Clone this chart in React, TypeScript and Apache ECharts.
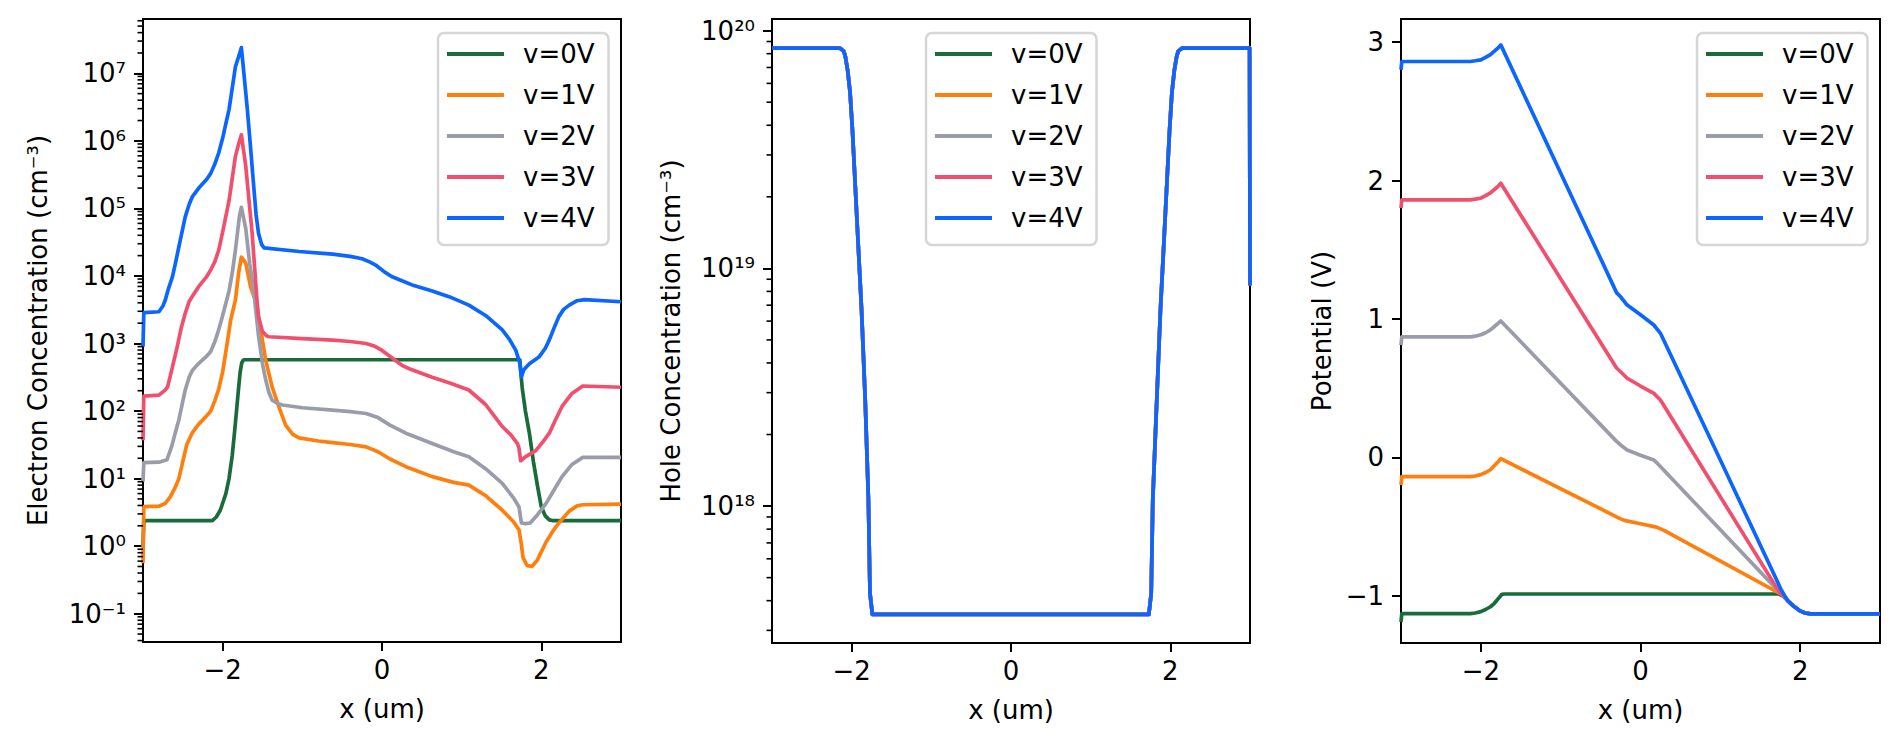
import React, { useEffect, useRef } from "react";
import * as echarts from "echarts";

// ---------- data ----------
const voltageLabels = ["v=0V", "v=1V", "v=2V", "v=3V", "v=4V"];
const seriesColors = ["#1a6b3a", "#ff7f0e", "#9a9cab", "#f0506e", "#0a66ff"];

const xTicks = [-2, 0, 2];
const electronTickExponents = [-1, 0, 1, 2, 3, 4, 5, 6, 7];
const holeTickExponents = [18, 19, 20];
const potentialTicks = [-1, 0, 1, 2, 3];

// Electron concentration (cm^-3) vs x (um)
const electronV0 = [
  [-3, 1.0], [-2.99, 2.38], [-2.13, 2.38], [-2.08, 2.7], [-2.03, 3.4], [-1.96, 6], [-1.92, 10],
  [-1.88, 22], [-1.85, 50], [-1.82, 120], [-1.8, 220], [-1.78, 380], [-1.76, 520], [-1.74, 570],
  [-1.72, 575], [1.73, 575], [1.745, 350], [1.76, 220], [1.8, 100], [1.85, 47], [1.9, 18],
  [1.95, 8], [2.0, 3.8], [2.05, 2.8], [2.1, 2.45], [2.15, 2.38], [3, 2.38],
];
const electronV1 = [
  [-3, 0.56], [-2.99, 3.84], [-2.8, 3.9], [-2.72, 4.3], [-2.66, 5.3], [-2.6, 7.2], [-2.55, 10],
  [-2.5, 18], [-2.45, 32], [-2.38, 48], [-2.3, 64], [-2.2, 85], [-2.15, 100], [-2.1, 140],
  [-2.05, 210], [-2.0, 380], [-1.95, 900], [-1.9, 2200], [-1.84, 4400], [-1.8, 11000],
  [-1.765, 19000], [-1.71, 15500], [-1.65, 6900], [-1.59, 4400], [-1.55, 2500], [-1.5, 1100],
  [-1.46, 570], [-1.38, 230], [-1.3, 120], [-1.21, 62], [-1.12, 45], [-1.04, 40], [-0.8, 36],
  [-0.62, 34], [-0.4, 32], [-0.2, 29.5], [-0.05, 25], [0.1, 19.5], [0.3, 15], [0.63, 10.7],
  [0.9, 8.8], [1.09, 8.0], [1.3, 5.6], [1.51, 3.4], [1.65, 2.3], [1.72, 1.74], [1.75, 1.05],
  [1.77, 0.68], [1.82, 0.52], [1.88, 0.5], [1.95, 0.62], [2.06, 1.15], [2.15, 1.7], [2.22, 2.2],
  [2.35, 3.3], [2.45, 3.95], [2.52, 4.1], [3, 4.2],
];
const electronV2 = [
  [-3, 9], [-2.99, 17.2], [-2.8, 17.5], [-2.7, 19], [-2.64, 30], [-2.58, 55], [-2.55, 74],
  [-2.5, 140], [-2.47, 205], [-2.42, 320], [-2.38, 400], [-2.3, 510], [-2.2, 650], [-2.15, 760],
  [-2.1, 1050], [-2.05, 1600], [-2.0, 2600], [-1.92, 6000], [-1.88, 11000], [-1.84, 24000],
  [-1.79, 76000], [-1.765, 104000], [-1.71, 50000], [-1.66, 15000], [-1.61, 6000], [-1.55, 1300],
  [-1.5, 500], [-1.46, 290], [-1.42, 190], [-1.38, 145], [-1.3, 128], [-1.25, 123], [-1.0, 112],
  [-0.62, 103], [-0.4, 98], [-0.2, 92], [-0.05, 80], [0.1, 62], [0.3, 47], [0.63, 33], [0.9, 25],
  [1.09, 21], [1.3, 14], [1.51, 8.5], [1.65, 5.2], [1.72, 3.8], [1.75, 2.2], [1.8, 2.15],
  [1.86, 2.2], [1.95, 2.9], [2.06, 4.3], [2.15, 6.5], [2.26, 10.7], [2.38, 16], [2.52, 20.6],
  [3, 20.6],
];
const electronV3 = [
  [-3, 37], [-2.99, 166], [-2.8, 172], [-2.72, 205], [-2.69, 230], [-2.63, 450], [-2.57, 900],
  [-2.52, 1700], [-2.47, 2800], [-2.42, 4200], [-2.38, 5000], [-2.3, 7000], [-2.2, 9800],
  [-2.15, 12300], [-2.1, 16000], [-2.05, 24000], [-2.0, 45000], [-1.92, 130000],
  [-1.84, 590000], [-1.8, 900000], [-1.765, 1230000], [-1.71, 420000], [-1.63, 43000],
  [-1.57, 4500], [-1.55, 2500], [-1.5, 1500], [-1.45, 1300], [-1.42, 1260], [-1.0, 1180],
  [-0.62, 1120], [-0.4, 1070], [-0.2, 1000], [-0.1, 920], [0, 790], [0.12, 620], [0.25, 475],
  [0.35, 420], [0.63, 317], [0.85, 260], [1.09, 205], [1.3, 125], [1.51, 59], [1.62, 44],
  [1.7, 33], [1.72, 28], [1.74, 18.4], [1.8, 21], [1.93, 26], [2.02, 35], [2.1, 47],
  [2.18, 75], [2.26, 117], [2.38, 180], [2.52, 235], [3, 225],
];
const electronV4 = [
  [-3, 900], [-2.99, 2870], [-2.8, 2950], [-2.75, 3600], [-2.72, 4400], [-2.68, 6500],
  [-2.63, 9800], [-2.59, 16000], [-2.55, 27000], [-2.51, 45000], [-2.47, 75000],
  [-2.42, 115000], [-2.38, 150000], [-2.3, 200000], [-2.2, 270000], [-2.15, 330000],
  [-2.1, 450000], [-2.05, 660000], [-2.0, 1100000], [-1.96, 1800000], [-1.92, 2900000],
  [-1.88, 6000000], [-1.84, 12500000], [-1.8, 17600000], [-1.765, 24000000], [-1.74, 12000000],
  [-1.69, 2900000], [-1.65, 800000], [-1.61, 210000], [-1.58, 80000], [-1.55, 43000],
  [-1.51, 29000], [-1.48, 26000], [-1.04, 23000], [-0.62, 21000], [-0.4, 19500], [-0.25, 18000],
  [-0.15, 16000], [-0.08, 14500], [0.03, 11500], [0.12, 9800], [0.25, 8500], [0.4, 7200],
  [0.63, 6000], [0.85, 4900], [1.09, 3700], [1.3, 2600], [1.51, 1590], [1.6, 1150],
  [1.68, 790], [1.73, 510], [1.75, 320], [1.78, 410], [1.85, 500], [1.97, 630], [2.05, 850],
  [2.1, 1130], [2.16, 1700], [2.22, 2500], [2.28, 3200], [2.35, 3700], [2.45, 4300],
  [2.54, 4470], [3, 4150],
];

// Hole concentration (cm^-3): identical for all biases at this scale
const holeConcentration = [
  [-3, 8.45e19], [-2.15, 8.45e19], [-2.1, 8.2e19], [-2.08, 7.8e19], [-2.05, 6.8e19],
  [-2.02, 5.5e19], [-1.99, 3.8e19], [-1.96, 2.4e19], [-1.92, 1.3e19], [-1.876, 6.7e18],
  [-1.83, 2.8e18], [-1.79, 1.07e18], [-1.77, 4.3e17], [-1.74, 3.5e17], [1.73, 3.5e17],
  [1.76, 4.3e17], [1.78, 1.07e18], [1.83, 2.8e18], [1.876, 6.7e18], [1.92, 1.3e19],
  [1.96, 2.4e19], [1.99, 3.8e19], [2.02, 5.5e19], [2.05, 6.8e19], [2.08, 7.8e19],
  [2.1, 8.2e19], [2.15, 8.45e19], [2.995, 8.45e19], [3, 8.5e18],
];

// Potential (V)
const potentialV0 = [
  [-3, -1.19], [-2.99, -1.13], [-2.13, -1.13], [-2.07, -1.125], [-2.0, -1.115], [-1.94, -1.1],
  [-1.88, -1.08], [-1.83, -1.055], [-1.78, -1.02], [-1.735, -0.99], [-1.7, -0.988],
  [1.73, -0.988], [1.78, -1.0], [1.85, -1.04], [1.92, -1.077], [2.0, -1.11], [2.06, -1.125],
  [2.13, -1.132], [3, -1.132],
];
const potentialV1 = [
  [-3, -0.2], [-2.99, -0.14], [-2.13, -0.14], [-2.07, -0.135], [-2.0, -0.125], [-1.94, -0.11],
  [-1.88, -0.09], [-1.83, -0.06], [-1.78, -0.03], [-1.75, -0.01], [-0.3, -0.43],
  [-0.25, -0.445], [-0.19, -0.458], [0.0, -0.48], [0.2, -0.505], [0.3, -0.53], [1.75, -0.985],
  [1.8, -1.005], [1.85, -1.04], [1.92, -1.077], [2.0, -1.11], [2.06, -1.125], [2.13, -1.132],
  [3, -1.132],
];
const potentialV2 = [
  [-3, 0.81], [-2.99, 0.87], [-2.13, 0.87], [-2.07, 0.875], [-2.0, 0.885], [-1.94, 0.9],
  [-1.88, 0.92], [-1.83, 0.945], [-1.78, 0.97], [-1.75, 0.985], [-0.3, 0.115], [-0.25, 0.089],
  [-0.167, 0.053], [0.0, 0.015], [0.167, -0.02], [0.21, -0.043], [1.75, -0.98], [1.8, -1.005],
  [1.85, -1.04], [1.92, -1.077], [2.0, -1.11], [2.06, -1.125], [2.13, -1.132], [3, -1.132],
];
const potentialV3 = [
  [-3, 1.8], [-2.99, 1.86], [-2.13, 1.86], [-2.07, 1.865], [-2.0, 1.872], [-1.94, 1.89],
  [-1.88, 1.91], [-1.83, 1.935], [-1.78, 1.96], [-1.75, 1.98], [-0.3, 0.645], [-0.25, 0.618],
  [-0.167, 0.571], [0.0, 0.515], [0.167, 0.462], [0.25, 0.414], [1.75, -0.985], [1.8, -1.005],
  [1.85, -1.04], [1.92, -1.077], [2.0, -1.11], [2.06, -1.125], [2.13, -1.132], [3, -1.132],
];
const potentialV4 = [
  [-3, 2.8], [-2.99, 2.86], [-2.13, 2.86], [-2.07, 2.865], [-2.0, 2.872], [-1.94, 2.89],
  [-1.88, 2.91], [-1.83, 2.935], [-1.78, 2.96], [-1.75, 2.98], [-0.3, 1.19], [-0.25, 1.16],
  [-0.167, 1.1], [0.0, 1.03], [0.167, 0.956], [0.25, 0.896], [1.0, -0.02], [1.7, -0.88],
  [1.76, -0.955], [1.8, -0.995], [1.85, -1.04], [1.92, -1.077], [2.0, -1.11], [2.06, -1.125],
  [2.13, -1.132], [3, -1.132],
];

const electronSets = [electronV0, electronV1, electronV2, electronV3, electronV4];
const potentialSets = [potentialV0, potentialV1, potentialV2, potentialV3, potentialV4];

// ---------- helpers ----------
const FONT = "DejaVu Sans";
const SUP: Record<string, string> = {
  "0": "⁰", "1": "¹", "2": "²", "3": "³", "4": "⁴", "5": "⁵", "6": "⁶", "7": "⁷", "8": "⁸", "9": "⁹", "-": "⁻",
};
const pow10Label = (k: number) => "10" + String(Math.round(k)).split("").map((c) => SUP[c] || c).join("");
const numLabel = (v: number) => (v < 0 ? "\u2212" + Math.abs(v) : String(v));
const minorLogTicks = (lo: number, hi: number) => {
  const out: number[] = [];
  for (let d = Math.floor(lo); d <= Math.ceil(hi); d++) {
    for (let m = 2; m <= 9; m++) {
      const t = d + Math.log10(m);
      if (t >= lo && t <= hi) out.push(t);
    }
  }
  return out;
};
const toLog = (arr: number[][]) => arr.map(([x, v]) => [x, Math.log10(v)]);

function buildOption() {
  const grids = [
    { left: 143, top: 19, width: 478, height: 623 },
    { left: 772, top: 19, width: 478, height: 624 },
    { left: 1401, top: 19, width: 479, height: 624 },
  ];
  const yRanges = [
    [-1.419, 7.804],
    [17.424, 20.049],
    [-1.342, 3.167],
  ];
  const labelStyle = { fontSize: 26, color: "#000", fontFamily: FONT };

  const xAxis = grids.map((_, i) => ({
    type: "value",
    gridIndex: i,
    min: -3,
    max: 3,
    position: "bottom",
    name: "x (um)",
    nameLocation: "middle",
    nameGap: 54,
    nameTextStyle: labelStyle,
    axisLine: { show: false, onZero: false },
    splitLine: { show: false },
    axisTick: { show: true, customValues: xTicks, length: 9, lineStyle: { color: "#000", width: 2 } },
    axisLabel: { customValues: xTicks, formatter: (v: number) => numLabel(v), margin: 15, ...labelStyle },
  }));

  const majorY = (i: number, name: string, gap: number, ticks: number[], fmt: (v: number) => string) => ({
    type: "value",
    gridIndex: i,
    min: yRanges[i][0],
    max: yRanges[i][1],
    position: "left",
    name,
    nameLocation: "middle",
    nameRotate: 90,
    nameGap: gap,
    nameTextStyle: labelStyle,
    axisLine: { show: false, onZero: false },
    splitLine: { show: false },
    axisTick: { show: true, customValues: ticks, length: 9, lineStyle: { color: "#000", width: 2 } },
    axisLabel: { customValues: ticks, formatter: fmt, margin: 17, ...labelStyle },
  });

  const yAxis = [
    majorY(0, "Electron Concentration (cm⁻³)", 92, electronTickExponents, pow10Label),
    majorY(1, "Hole Concentration (cm⁻³)", 88, holeTickExponents, pow10Label),
    majorY(2, "Potential (V)", 66, potentialTicks, (v: number) => numLabel(v)),
  ];

  const lineSeries = (name: string, color: string, idx: number, data: number[][]) => ({
    type: "line",
    name,
    xAxisIndex: idx,
    yAxisIndex: idx,
    data,
    showSymbol: false,
    symbol: "none",
    smooth: false,
    clip: true,
    lineStyle: { width: 3.7, color, join: "round", cap: "butt" },
    itemStyle: { color },
    emphasis: { disabled: true },
  });

  const series: any[] = [];
  voltageLabels.forEach((n, k) => series.push(lineSeries(n, seriesColors[k], 0, toLog(electronSets[k]))));
  voltageLabels.forEach((n, k) => series.push(lineSeries(n, seriesColors[k], 1, toLog(holeConcentration))));
  voltageLabels.forEach((n, k) => series.push(lineSeries(n, seriesColors[k], 2, potentialSets[k])));

  // minor ticks of the logarithmic axes, placed through the axis scale
  const minorTicks = (idx: number) => ({
    type: "custom",
    name: "_minorTicks" + idx,
    xAxisIndex: idx,
    yAxisIndex: idx,
    silent: true,
    clip: false,
    z: 5,
    data: minorLogTicks(yRanges[idx][0], yRanges[idx][1]).map((v) => [-3, v]),
    renderItem: (params: any, api: any) => {
      const p = api.coord([api.value(0), api.value(1)]);
      return {
        type: "line",
        shape: { x1: p[0] - 5.5, y1: p[1], x2: p[0], y2: p[1] },
        style: { stroke: "#000", lineWidth: 1.6 },
      };
    },
  });
  series.push(minorTicks(0));
  series.push(minorTicks(1));

  const legend = [438, 926, 1697].map((left) => ({
    left,
    top: 33,
    orient: "vertical",
    data: voltageLabels,
    icon: "rect",
    itemWidth: 57,
    itemHeight: 4,
    itemGap: 15,
    padding: [8, 14, 14, 9],
    backgroundColor: "rgba(255,255,255,0.8)",
    borderColor: "#d6d6d6",
    borderWidth: 2.5,
    borderRadius: 6,
    selectedMode: false,
    textStyle: { ...labelStyle, lineHeight: 26, padding: [0, 0, 0, 14] },
  }));

  return {
    animation: false,
    backgroundColor: "#fff",
    textStyle: { fontFamily: FONT },
    grid: grids.map((g) => ({ ...g, show: true, borderColor: "#000", borderWidth: 2, backgroundColor: "transparent", containLabel: false })),
    xAxis,
    yAxis,
    legend,
    series,
  };
}

export default function App() {
  const ref = useRef<HTMLDivElement>(null);
  useEffect(() => {
    if (!ref.current) return;
    const chart = echarts.init(ref.current, null, { renderer: "svg", width: 1898, height: 746 });
    chart.setOption(buildOption() as any);
    return () => chart.dispose();
  }, []);
  return (
    <div
      ref={ref}
      style={{ position: "fixed", left: 0, top: 0, width: 1898, height: 746, background: "#fff" }}
    />
  );
}
